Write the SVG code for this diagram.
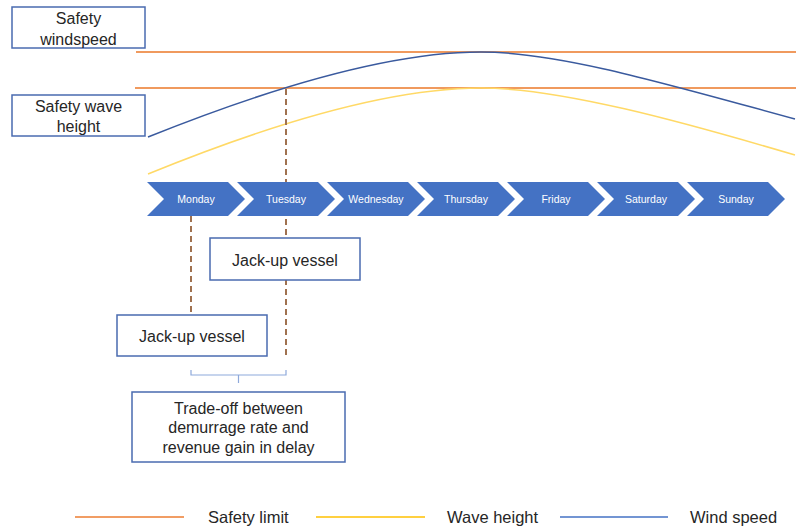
<svg xmlns="http://www.w3.org/2000/svg" width="796" height="529" viewBox="0 0 796 529">
<defs>
<style>
.box{fill:#fff;stroke:#4a6bb0;stroke-width:1.5}
.t{font-family:"Liberation Sans",Arial,sans-serif;font-size:16px;fill:#262626;text-anchor:middle}
.lt{font-family:"Liberation Sans",Arial,sans-serif;font-size:16.5px;fill:#262626}
.chev{fill:#4472C4}
.ct{font-family:"Liberation Sans",Arial,sans-serif;font-size:10.5px;fill:#fff;text-anchor:middle}
.lim{stroke:#F09A5E;stroke-width:2;fill:none}
.wind{stroke:#3A5A9E;stroke-width:1.5;fill:none}
.wave{stroke:#FFD966;stroke-width:1.5;fill:none}
.dash{stroke:#A0714F;stroke-width:2;stroke-dasharray:6,4;fill:none}
.brk{stroke:#8EA9DB;stroke-width:1.2;fill:none}
</style>
</defs>
<g id="connectors">
<line class="lim" x1="136" y1="52" x2="796" y2="52"/>
<line class="lim" x1="135" y1="88" x2="796" y2="88"/>
<path class="wave" d="M148,174 C290,116 400,88 481,88 C560,88 680,121 795,155"/>
<path class="wind" d="M148,137 C290,80 400,52 481,52 C560,52 670,85 795,119"/>
<line class="dash" x1="286" y1="89" x2="286" y2="356"/>
<line class="dash" x1="191" y1="216" x2="191" y2="315"/>
<path class="brk" d="M191,370 V375 H286 V370 M238.5,375 V383"/>
</g>
<g id="days">
<g id="monday"><polygon class="chev" points="147,182 228,182 245,199 228,216 147,216 164,199"/><text class="ct" x="196" y="203">Monday</text></g>
<g id="tuesday"><polygon class="chev" points="237,182 318,182 335,199 318,216 237,216 254,199"/><text class="ct" x="286" y="203">Tuesday</text></g>
<g id="wednesday"><polygon class="chev" points="327,182 408,182 425,199 408,216 327,216 344,199"/><text class="ct" x="376" y="203">Wednesday</text></g>
<g id="thursday"><polygon class="chev" points="417,182 498,182 515,199 498,216 417,216 434,199"/><text class="ct" x="466" y="203">Thursday</text></g>
<g id="friday"><polygon class="chev" points="507,182 588,182 605,199 588,216 507,216 524,199"/><text class="ct" x="556" y="203">Friday</text></g>
<g id="saturday"><polygon class="chev" points="597,182 678,182 695,199 678,216 597,216 614,199"/><text class="ct" x="646" y="203">Saturday</text></g>
<g id="sunday"><polygon class="chev" points="687,182 768,182 785,199 768,216 687,216 704,199"/><text class="ct" x="736" y="203">Sunday</text></g>
</g>
<g id="safety-windspeed"><rect class="box" x="12" y="7" width="133" height="41"/><text class="t" x="78.5" y="24">Safety</text><text class="t" x="78.5" y="45">windspeed</text></g>
<g id="safety-wave-height"><rect class="box" x="12" y="95" width="133" height="41"/><text class="t" x="78.5" y="112">Safety wave</text><text class="t" x="78.5" y="132">height</text></g>
<g id="jackup-1"><rect class="box" x="210" y="238" width="150" height="42"/><text class="t" x="285" y="266">Jack-up vessel</text></g>
<g id="jackup-2"><rect class="box" x="117" y="315" width="150" height="41"/><text class="t" x="192" y="342">Jack-up vessel</text></g>
<g id="tradeoff"><rect class="box" x="132" y="392" width="213" height="70"/><text class="t" x="238.5" y="414">Trade-off between</text><text class="t" x="238.5" y="433">demurrage rate and</text><text class="t" x="238.5" y="453">revenue gain in delay</text></g>
<g id="legend">
<line x1="75" y1="517" x2="184" y2="517" stroke="#ED7D31" stroke-width="1.5"/>
<text class="lt" x="208" y="523">Safety limit</text>
<line x1="316" y1="517" x2="425" y2="517" stroke="#FFC000" stroke-width="1.5"/>
<text class="lt" x="447" y="523">Wave height</text>
<line x1="560" y1="517" x2="668" y2="517" stroke="#4472C4" stroke-width="1.5"/>
<text class="lt" x="690" y="523">Wind speed</text>
</g>
</svg>
